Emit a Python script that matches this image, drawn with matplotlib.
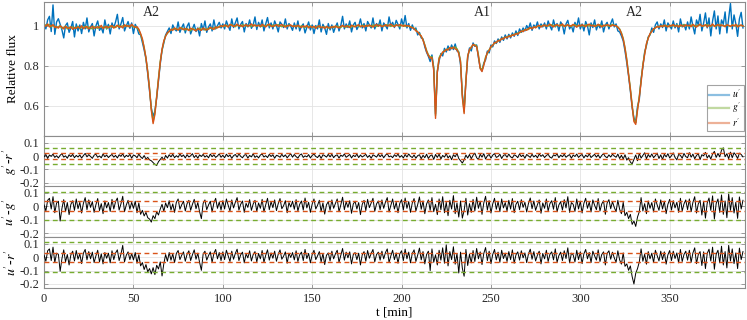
import numpy as np
import matplotlib
matplotlib.use('Agg')
import matplotlib.pyplot as plt

# light curves, relative flux in units of 0.001, one sample per minute
r_flux = [
    1004, 998, 1010, 995, 1001, 1006, 992, 997, 989, 1000, 994, 985, 998, 991, 987, 996, 983, 992, 988, 995,
    990, 1001, 986, 994, 997, 985, 992, 999, 988, 993, 996, 990, 1003, 987, 994, 998, 991, 996, 1002, 989,
    997, 1004, 993, 999, 990, 1006, 998, 1002, 995, 1008, 999, 993, 996, 984, 962, 936, 888, 842, 768, 684,
    578, 512, 558, 645, 732, 818, 884, 926, 948, 967, 972, 983, 978, 990, 984, 979, 992, 986, 981, 988,
    983, 977, 989, 984, 980, 975, 987, 981, 978, 990, 984, 979, 986, 993, 988, 982, 995, 990, 997, 1001,
    996, 1005, 1000, 994, 1008, 1003, 997, 1002, 1009, 999, 1004, 996, 1001, 1007, 998, 1003, 1010, 999, 1005, 1000,
    1003, 997, 1008, 1001, 995, 1004, 1009, 1000, 996, 1003, 1006, 998, 1002, 1007, 999, 994, 1003, 1000, 1005, 997,
    1001, 995, 1004, 998, 992, 1000, 996, 1003, 990, 997, 993, 999, 988, 996, 1001, 991, 995, 987, 998, 993,
    989, 997, 992, 1000, 994, 990, 998, 1003, 995, 1001, 997, 992, 1004, 999, 995, 1002, 1006, 997, 1001, 994,
    1003, 998, 1005, 1000, 994, 1002, 1008, 999, 1003, 996, 1001, 1006, 998, 1004, 1009, 1000, 996, 1005, 1001, 1007,
    1003, 998, 1004, 999, 1002, 994, 991, 986, 975, 971, 958, 950, 928, 903, 872, 852, 838, 842, 776, 538,
    768, 836, 852, 870, 872, 883, 879, 892, 886, 894, 885, 881, 862, 818, 642, 562, 722, 848, 883, 892,
    908, 902, 896, 848, 786, 772, 803, 838, 868, 876, 898, 902, 918, 916, 928, 925, 938, 934, 945, 940,
    950, 946, 956, 952, 962, 958, 968, 975, 971, 982, 978, 987, 992, 985, 996, 990, 999, 1003, 994, 1001,
    1005, 998, 1003, 1009, 1000, 995, 1004, 1007, 999, 1002, 1010, 997, 1003, 1006, 998, 1001, 1008, 1000, 994, 1004,
    999, 1006, 1002, 996, 1005, 1009, 1000, 1003, 997, 1002, 1008, 1001, 995, 1004, 1000, 1007, 1003, 998, 1005, 1001,
    1002, 993, 983, 962, 934, 888, 828, 757, 682, 598, 522, 508, 578, 642, 718, 802, 858, 912, 938, 962,
    972, 986, 990, 998, 993, 1001, 996, 1004, 999, 995, 1003, 1000, 1007, 998, 1002, 994, 1005, 1001, 997, 1006,
    1000, 1004, 996, 1008, 1001, 994, 1003, 1009, 998, 1002, 1006, 995, 1004, 1000, 1010, 997, 1003, 1007, 999, 1005,
    1001, 996, 1006, 1003, 998, 1004, 1000, 1008, 995, 1002, 1005, 999,
]

g_flux = [
    999, 1006, 1001, 1008, 995, 1003, 998, 990, 996, 1002, 988, 993, 999, 985, 994, 990, 996, 987, 993, 998,
    986, 995, 991, 999, 988, 996, 990, 985, 997, 992, 988, 1000, 994, 991, 998, 986, 995, 1001, 993, 998,
    992, 999, 1003, 995, 1001, 997, 1004, 996, 1000, 1003, 994, 998, 990, 980, 958, 930, 894, 838, 774, 690,
    586, 522, 566, 650, 740, 824, 880, 922, 952, 962, 975, 979, 986, 982, 988, 980, 985, 991, 984, 979,
    987, 981, 976, 988, 983, 978, 984, 990, 982, 986, 979, 988, 983, 990, 985, 992, 987, 996, 993, 998,
    1001, 997, 1004, 999, 1002, 1007, 1000, 996, 1005, 1002, 998, 1006, 1003, 999, 1004, 1001, 997, 1006, 1002, 998,
    1005, 1001, 997, 1004, 1000, 1006, 1002, 998, 1005, 999, 1003, 1007, 1000, 996, 1004, 1001, 997, 1005, 1002, 999,
    997, 1002, 999, 994, 1001, 997, 992, 999, 995, 1000, 991, 996, 993, 999, 994, 990, 997, 992, 995, 989,
    995, 991, 998, 993, 999, 996, 992, 1000, 997, 993, 1002, 998, 994, 1001, 997, 1003, 999, 995, 1004, 1000,
    998, 1004, 1000, 996, 1005, 1001, 997, 1003, 1006, 1000, 998, 1003, 1007, 1001, 997, 1004, 1000, 1006, 1002, 998,
    1001, 1005, 997, 1002, 998, 996, 993, 988, 980, 969, 962, 947, 932, 906, 878, 856, 845, 846, 790, 552,
    775, 842, 858, 866, 878, 880, 886, 889, 893, 890, 895, 886, 868, 825, 652, 570, 730, 852, 878, 896,
    903, 906, 900, 855, 792, 780, 808, 845, 862, 882, 892, 906, 912, 920, 924, 930, 934, 940, 942, 946,
    948, 952, 953, 958, 960, 965, 966, 972, 977, 979, 984, 982, 990, 988, 993, 995, 997, 1000, 998, 1003,
    1000, 1004, 999, 1003, 1006, 1001, 998, 1004, 1002, 1007, 1000, 1003, 999, 1005, 1002, 997, 1004, 1006, 1001, 999,
    1004, 1001, 998, 1006, 1002, 999, 1005, 1001, 1004, 999, 1003, 1006, 1000, 998, 1005, 1002, 999, 1004, 1007, 1003,
    1000, 995, 985, 966, 938, 892, 834, 763, 688, 606, 530, 516, 586, 650, 726, 808, 864, 908, 942, 958,
    976, 983, 992, 995, 999, 997, 1002, 998, 1003, 1000, 996, 1004, 1001, 997, 1005, 1000, 998, 1003, 1006, 1000,
    1003, 999, 1005, 1001, 997, 1004, 1000, 1006, 1002, 999, 1003, 1007, 1001, 998, 1005, 1002, 999, 1004, 1008, 1001,
    1003, 999, 1004, 1001, 997, 1006, 1002, 999, 1004, 1000, 1003, 1001,
]

u_flux = [
    1012, 985, 1030, 1048, 972, 1105, 958, 1020, 1036, 1008, 980, 940, 1002, 1015, 968, 990, 1022, 945, 1010, 975,
    1005, 962, 1018, 985, 1040, 970, 995, 1012, 950, 1000, 1025, 978, 992, 965, 1030, 985, 1008, 960, 1015, 992,
    1020, 1058, 985, 1010, 1042, 975, 1000, 1022, 988, 1015, 962, 1008, 990, 960, 955, 918, 880, 835, 760, 675,
    590, 548, 575, 640, 725, 810, 878, 915, 955, 972, 990, 962, 1005, 985, 975, 1020, 968, 992, 1010, 965,
    998, 1015, 960, 985, 1008, 972, 990, 950, 1012, 980, 1025, 968, 995, 1010, 975, 1030, 985, 1002, 1018, 990,
    1010, 985, 1025, 1000, 978, 1035, 992, 1015, 1040, 985, 1008, 1022, 970, 1012, 995, 1030, 988, 1005, 1045, 982,
    1018, 995, 1030, 975, 1010, 1042, 990, 1015, 985, 1025, 1002, 970, 1020, 1008, 992, 1035, 985, 1012, 998, 978,
    1015, 985, 1025, 975, 998, 1010, 965, 992, 1020, 980, 1005, 962, 1002, 985, 1030, 970, 1008, 990, 958, 1012,
    980, 1005, 968, 995, 1015, 975, 1002, 1048, 985, 1010, 992, 1025, 970, 1005, 1018, 982, 1000, 1035, 990, 1012,
    975, 1022, 1005, 990, 1040, 985, 1012, 998, 1030, 975, 1015, 1002, 985, 1045, 1000, 1018, 992, 1028, 1008, 985,
    1035, 1000, 1052, 990, 1012, 978, 1005, 982, 990, 955, 968, 940, 935, 895, 868, 848, 822, 855, 790, 560,
    770, 825, 862, 850, 888, 870, 900, 878, 905, 882, 910, 875, 870, 805, 660, 585, 725, 840, 890, 875,
    915, 898, 905, 842, 790, 775, 815, 830, 875, 865, 905, 895, 925, 912, 935, 918, 945, 928, 955, 935,
    958, 940, 965, 948, 975, 952, 985, 968, 990, 975, 1002, 985, 1015, 978, 1005, 992, 1020, 985, 1010, 995,
    1015, 985, 1025, 1000, 980, 1030, 995, 1012, 975, 1020, 1005, 960, 1010, 1028, 985, 1002, 970, 1018, 995, 1040,
    985, 1010, 975, 1022, 1000, 955, 1015, 992, 1030, 980, 1008, 990, 1025, 970, 1005, 1018, 985, 1012, 1035, 995,
    1010, 975, 970, 950, 925, 875, 815, 750, 675, 592, 540, 518, 598, 632, 735, 795, 870, 902, 945, 955,
    990, 968, 1005, 1020, 985, 1010, 992, 1030, 975, 1015, 1000, 985, 1025, 990, 1012, 970, 1035, 995, 1008, 980,
    1020, 985, 1045, 998, 960, 1030, 1005, 1058, 975, 1015, 1065, 990, 1040, 950, 1025, 1075, 985, 1050, 960, 1030,
    1008, 1070, 965, 1040, 1112, 985, 1055, 1010, 948, 1035, 1068, 990,
]

# colour differences, units of 0.001
gr_diff = [
    -5, 12, -18, 8, -2, 15, -10, 3, -14, 6, 18, -8, 2, -16, 10, -4, 13, -12, 5, -7,
    9, -15, 4, 20, -6, 11, -3, -17, 7, 14, -9, 1, -13, 16, -5, 8, -11, 3, 12, -8,
    5, -14, 10, -2, 17, -10, 6, -4, 13, -16, 8, 2, -12, 15, -6, -18, 4, -22, -10, -28,
    -35, -48, -62, -70, -42, -25, -8, -30, 5, -15, 10, -6, 14, -12, 3, -9, 16, -4, 8, -14,
    11, -7, 2, 18, -11, 6, -16, 9, -3, 13, -8, 4, -13, 15, -5, 10, -10, 1, 17, -9,
    6, -12, 14, -4, 9, -17, 3, 12, -8, 16, -2, -13, 7, 11, -15, 5, -6, 18, -10, 2,
    -14, 8, 15, -7, 3, -11, 13, -3, 10, -16, 6, 1, -9, 14, -5, 9, -13, 4, 17, -8,
    12, -4, -15, 7, 16, -10, 2, -6, 11, -14, 5, 15, -3, -11, 8, -17, 10, 3, -8, 13,
    -6, 14, -12, 4, 9, -15, 7, -2, 16, -9, 1, 12, -14, 6, -4, 15, -11, 8, -7, 3,
    13, -10, 5, -16, 9, 2, -8, 14, -5, 11, -13, 7, 18, -6, 1, -12, 10, -3, 15, -9,
    4, -14, 12, -7, 16, -2, -11, 8, -16, 3, 10, -20, 6, -12, 14, -18, 2, 9, -25, 12,
    -10, 15, -22, 5, -8, 18, -14, 3, -27, 10, -5, 20, -18, -35, -52, -28, 8, -15, 12, -20,
    6, 22, -12, -26, 14, -8, 18, -22, 2, 12, -15, 7, 19, -10, -3, 14, -18, 5, 11, -9,
    15, -6, -14, 9, 3, -12, 17, -4, 8, -16, 12, 1, -10, 14, -7, 6, -13, 16, -2, 10,
    -11, 5, 13, -8, -15, 9, 2, 16, -12, 7, -5, 14, -9, 3, 11, -16, 8, -3, 15, -10,
    4, 12, -14, 7, -6, 17, -11, 2, 13, -8, 10, -15, 5, 18, -4, -12, 9, -7, 14, 1,
    -9, 15, -18, 6, -22, 10, -30, -12, -45, -58, -25, 8, -35, 20, -15, 5, 25, -20, 12, -8,
    16, -12, 4, 22, -18, 9, -25, 14, -6, 18, -14, 3, 24, -10, -28, 12, 6, -16, 20, -4,
    -12, 26, -8, 15, -20, 5, 18, -26, 10, 2, 28, -14, 7, -22, 16, 35, -10, 20, -6, 45,
    62, -5, 18, -20, 30, -12, 25, 8, -18, 22, 12, -6,
]

ug_diff = [
    10, -35, 45, 60, -20, 72, -48, 25, 38, -110, -15, 50, -40, 28, -62, 15, 42, -30, 55, -18,
    30, -50, 22, 65, -25, 48, -8, 35, -45, 12, 58, -32, 20, -55, 40, -12, 28, -38, 52, -20,
    35, 62, -28, 18, 75, -40, 10, 45, -22, 30, -15, 38, -48, 25, -60, -30, -72, -45, -85, -95,
    -118, -70, -92, -40, -65, -20, 15, -38, 25, -10, 42, -28, 18, -45, 30, 55, -22, 12, 38, -35,
    20, 45, -30, 15, 52, -18, 28, -40, -92, 22, 48, -25, 10, 38, -42, 25, 60, -15, 32, -28,
    42, -20, 55, 8, -35, 48, -12, 30, 65, -28, 15, 40, -45, 22, -8, 50, -30, 18, 45, -38,
    25, -15, 52, -42, 12, 60, -25, 35, -10, 48, -32, 20, 58, -18, 5, 42, -48, 28, -5, 38,
    -22, 50, -35, 15, 40, -28, 62, -12, 30, -45, 18, 55, -20, 8, 45, -38, 25, -58, 12, 35,
    -30, 48, -15, 22, 55, -40, 10, 68, -25, 35, -8, 42, -52, 18, 38, -20, 28, -62, 15, 45,
    -32, 52, -10, 25, 60, -38, 18, 40, -25, 48, -15, 32, 65, -42, 8, 55, -20, 30, -48, 22,
    50, -28, 62, -15, 35, -45, 25, 58, -35, 12, 70, -22, 40, -55, 18, 48, -30, 65, -40, 15,
    -62, 55, -25, 72, -48, 30, -70, 45, -20, 80, -55, 25, -80, 40, -88, -30, 60, -65, 20, -45,
    52, -35, 68, -15, 38, -60, 25, 75, -28, 42, -50, 18, 60, -22, 35, -40, 55, -12, 28, -35,
    45, -20, 58, -48, 15, 38, -25, 50, -8, 30, -42, 22, 62, -18, 40, -30, 12, 48, -52, 25,
    -15, 55, -35, 20, 42, -22, 65, -40, 10, 35, -28, 50, -12, 72, -45, 28, 15, -38, 55, -20,
    38, -50, 22, 60, -15, 32, -42, 48, 8, -25, 58, -35, 18, 42, -60, 25, 50, -18, 35, -8,
    -40, 45, -22, -55, 30, -70, -45, -92, -60, -135, -110, -150, -80, -40, 65, -35, 20, -55, 40, -15,
    28, -42, 55, 10, -30, 48, -20, 38, -55, 15, 52, -28, 42, -12, 30, -45, 60, -35, 18, 48,
    -25, 55, -40, 30, 72, -50, 18, 45, -65, 38, -88, 25, 62, -30, 78, -95, 20, 55, -45, 85,
    -60, 40, -85, 92, -30, 65, -50, 30, -90, 70, -20, 45,
]

ur_diff = [
    15, -30, 48, 62, -25, 75, -40, 30, 22, -105, -10, 55, -35, 20, -58, 18, 45, -28, 50, -15,
    25, -48, 30, 58, -20, 42, -12, 38, -40, 10, 52, -35, 25, -50, 35, -8, 30, -42, 48, -18,
    32, 55, -25, 22, 88, -35, 15, 40, -18, 28, -20, 35, -45, 18, -65, -40, -92, -55, -110, -85,
    -125, -78, -130, -60, -88, -35, -140, -48, 20, -30, 35, -22, 25, -40, 28, 50, -18, 15, 40, -30,
    22, 48, -25, 18, 55, -15, 30, -38, -98, 25, 45, -22, 12, 40, -38, 28, 58, -12, 35, -25,
    40, -18, 52, 10, -32, 45, -15, 28, 60, -25, 18, 38, -42, 25, -5, 48, -28, 20, 42, -35,
    28, -12, 50, -38, 15, 55, -22, 32, -8, 45, -30, 22, 55, -15, 8, 40, -45, 30, -2, 35,
    -20, 48, -32, 18, 38, -25, 58, -10, 28, -42, 20, 52, -18, 10, 42, -35, 28, -55, 15, 32,
    -28, 45, -12, 25, 52, -38, 12, 65, -22, 38, -5, 40, -50, 20, 35, -18, 30, -58, 18, 42,
    -30, 50, -8, 28, 58, -35, 20, 38, -22, 45, -12, 35, 62, -40, 10, 52, -18, 32, -45, 25,
    48, -25, 60, -12, 38, -42, 28, 55, -32, 15, 68, -20, 42, -50, 20, 45, -100, 62, -38, 18,
    -58, 52, -22, 70, -45, 92, -65, 42, -18, 78, -52, 28, -118, 38, -82, -142, 58, -62, 22, -42,
    50, -32, 65, -12, 40, -55, 28, 72, -25, 45, -48, 20, 58, -20, 38, -38, 52, -10, 30, -32,
    42, -18, 55, -45, 18, 40, -22, 48, -5, 32, -40, 25, 60, -15, 42, -28, 15, 45, -50, 28,
    -12, 52, -32, 22, 40, -20, 62, -38, 12, 38, -25, 48, -10, 70, -42, 30, 18, -35, 52, -18,
    40, -48, 25, 58, -12, 35, -40, 45, 10, -22, 55, -32, 20, 40, -58, 28, 48, -15, 38, -5,
    -38, 48, -20, -52, 32, -68, -50, -98, -65, -145, -200, -120, -85, -35, 62, -30, 22, -52, 42, -12,
    30, -40, 52, 12, -28, 45, -18, 40, -52, 18, 50, -25, 45, -10, 32, -42, 58, -32, 20, 45,
    -22, 52, -38, 32, 70, -48, 20, 42, -62, 40, -85, 28, 60, -28, 75, -90, 22, 52, -42, 82,
    -58, 42, -80, 88, -28, 62, -48, 32, -85, 68, -18, 42,
]

# threshold lines for each difference panel: (outer, inner)
gr_limits = (0.06, 0.025)
ug_limits = (0.105, 0.037)
ur_limits = (0.11, 0.035)

eclipse_labels = ['A2', 'A1', 'A2']
eclipse_times = [60, 245, 330]

plt.rcParams['font.family'] = ['Liberation Serif', 'DejaVu Serif']
plt.rcParams['mathtext.fontset'] = 'stix'
plt.rcParams['axes.unicode_minus'] = False
plt.rcParams['font.size'] = 9

c_blue = '#0072BD'
c_orange = '#D95319'
c_green = '#77AC30'
frame = '#8c8c8c'

fig = plt.figure(figsize=(7.47, 3.2), dpi=100)
left, right = 0.059, 0.997
ax0 = fig.add_axes([left, 0.575, right - left, 0.419])
h = 0.159
ax1 = fig.add_axes([left, 0.416, right - left, h])
ax2 = fig.add_axes([left, 0.259, right - left, h])
ax3 = fig.add_axes([left, 0.100, right - left, h])


def style(ax):
    for s in ax.spines.values():
        s.set_color(frame)
        s.set_linewidth(0.8)
    ax.tick_params(direction='in', top=True, right=True, color=frame,
                   labelcolor='#262626', length=3, width=0.6, labelsize=9)
    ax.grid(True, color='#e3e3e3', linewidth=0.6)
    ax.set_axisbelow(True)
    ax.set_xlim(0, 392)
    ax.set_xticks(np.arange(0, 351, 50))


t_u = np.arange(len(u_flux))
t_g = np.arange(len(g_flux))
t_r = np.arange(len(r_flux))
ax0.plot(t_u, np.array(u_flux) / 1000, color=c_blue, lw=1.0, label="$u'$")
ax0.plot(t_g, np.array(g_flux) / 1000, color=c_green, lw=1.0, label="$g'$")
ax0.plot(t_r, np.array(r_flux) / 1000, color=c_orange, lw=1.0, label="$r'$")
style(ax0)
ax0.set_ylim(0.45, 1.12)
ax0.set_yticks([0.6, 0.8, 1.0])
ax0.set_yticklabels(['0.6', '0.8', '1'])
ax0.tick_params(labelbottom=False)
ax0.set_ylabel('Relative flux', fontsize=9.5)
for lab, tx in zip(eclipse_labels, eclipse_times):
    ax0.text(tx, 1.065, lab, ha='center', va='center', fontsize=10, color='#262626')
leg = ax0.legend(loc='lower right', fontsize=7, frameon=True, fancybox=False,
                 handlelength=2.0, borderpad=0.25, labelspacing=0.05, handletextpad=0.4,
                 borderaxespad=0.0, bbox_to_anchor=(0.999, 0.035))
leg.get_frame().set_edgecolor(frame)
leg.get_frame().set_linewidth(0.8)
for ln in leg.get_lines():
    ln.set_alpha(0.45)
    ln.set_linewidth(1.6)

panels = [(ax1, gr_diff, gr_limits, "$g'$-$r'$"),
          (ax2, ug_diff, ug_limits, "$u'$-$g'$"),
          (ax3, ur_diff, ur_limits, "$u'$-$r'$")]
for ax, vals, lims, lab in panels:
    tt = np.arange(len(vals))
    ax.plot(tt, np.array(vals) / 1000, color='black', lw=0.7, zorder=3)
    outer, inner = lims
    for v in (outer, -outer):
        ax.axhline(v, color=c_green, lw=1.0, ls=(0, (3.5, 2.5)), zorder=4)
    for v in (inner, -inner):
        ax.axhline(v, color=c_orange, lw=1.0, ls=(0, (3.5, 2.5)), zorder=4)
    style(ax)
    ax.set_ylim(-0.23, 0.15)
    ax.set_yticks([-0.2, -0.1, 0, 0.1])
    ax.set_yticklabels(['-0.2', '-0.1', '0', '0.1'])
    ax.set_ylabel(lab, fontsize=10)
    ax.tick_params(labelbottom=False)

ax3.tick_params(labelbottom=True)
ax3.set_xlabel('t [min]', fontsize=9.5, labelpad=1)

for ax in (ax0, ax1, ax2, ax3):
    ax.yaxis.set_label_coords(-0.036, 0.5)

fig.savefig('out.png', dpi=100)
